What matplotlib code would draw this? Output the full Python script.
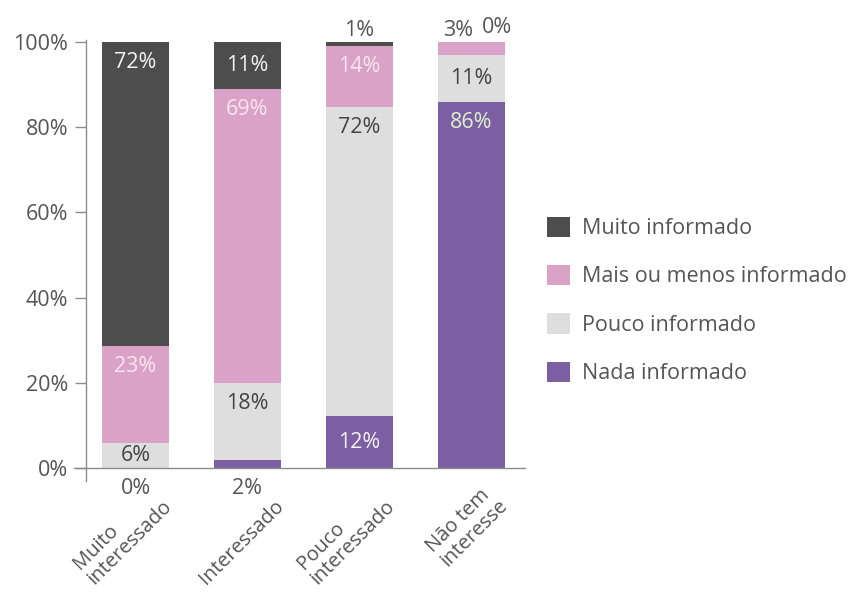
import matplotlib.pyplot as plt
import matplotlib.transforms as mtransforms
from matplotlib.patches import Patch
import numpy as np

plt.rcParams['font.family'] = ['Open Sans', 'DejaVu Sans']

categories = ['Muito\ninteressado', 'Interessado', 'Pouco\ninteressado', 'Não tem\ninteresse']
series = ['Nada informado', 'Pouco informado', 'Mais ou menos informado', 'Muito informado']
nada = [0, 2, 12, 86]
pouco = [6, 18, 72, 11]
mais = [23, 69, 14, 3]
muito = [72, 11, 1, 0]

colors = ['#7b5fa2', '#dedede', '#dba2c7', '#4d4d4d']
# label placement per category (Nada, Pouco, Mais, Muito):
# top = inside near top, mid = centred, below = under axis, above = over bar (x shift px)
placement = [
    [('below', 0), ('mid', 0), ('top', 0), ('top', 0)],
    [('below', 0), ('top', 0), ('top', 0), ('mid', 0)],
    [('mid', 0), ('top', 0), ('top', 0), ('above', 0)],
    [('top', 0), ('mid', 0), ('above', -13), ('above', 26)],
]
label_colors = [
    ['#555555', '#444444', '#f6e6f0', '#f2f2f2'],
    ['#555555', '#444444', '#f6e6f0', '#f2f2f2'],
    ['#f2f2f2', '#444444', '#f6e6f0', '#555555'],
    ['#dff2cf', '#444444', '#555555', '#555555'],
]
FS = 15.5

values = np.array([nada, pouco, mais, muito], dtype=float)
shares = values / values.sum(axis=0) * 100
x = np.arange(len(categories))

fig = plt.figure(figsize=(8.51, 5.92), dpi=100)
ax = fig.add_axes([74 / 851, 1 - 480.8 / 592, 451 / 851, 440.9 / 592])

bottom = np.zeros(len(categories))
for i, name in enumerate(series):
    ax.bar(x, shares[i], 0.6, bottom=bottom, color=colors[i], label=name)
    for j in range(len(categories)):
        mode, dx = placement[j][i]
        lo, hi = bottom[j], bottom[j] + shares[i][j]
        if mode == 'top':
            y = hi - 4.8
        elif mode == 'mid':
            y = (lo + hi) / 2
        elif mode == 'below':
            y = -4.7
        else:
            y = 100 + 2.8 + (0.7 if dx > 0 else 0)
        tr = ax.transData + mtransforms.ScaledTranslation(dx / 100, 0, fig.dpi_scale_trans)
        ax.text(x[j], y, f'{values[i][j]:.0f}%', transform=tr, ha='center', va='center',
                fontsize=FS, color=label_colors[j][i])
    bottom += shares[i]

ax.set_xlim(-0.55, 3.48)
ax.set_ylim(-3, 100.5)
ax.set_yticks(range(0, 101, 20))
ax.set_yticklabels([f'{v}%' for v in range(0, 101, 20)])
ax.set_xticks([])

for s in ['top', 'right']:
    ax.spines[s].set_visible(False)
ax.spines['bottom'].set_position(('data', 0))
ax.spines['left'].set_position(('data', -0.44))
for s in ['bottom', 'left']:
    ax.spines[s].set_color('#8c8c8c')
    ax.spines[s].set_linewidth(1.0)
ax.tick_params(axis='y', direction='out', length=8, width=1.0, color='#8c8c8c',
               labelsize=FS, labelcolor='#555555', pad=5)

# rotated category labels
off = mtransforms.ScaledTranslation(0.40, -0.42, fig.dpi_scale_trans)
for j, cat in enumerate(categories):
    ax.text(x[j], 0, cat, transform=ax.transData + off, rotation=45,
            rotation_mode='anchor', ha='right', va='bottom', multialignment='left',
            fontsize=14.5, color='#555555', linespacing=1.0)

handles = [Patch(facecolor=colors[i], label=series[i]) for i in range(len(series))][::-1]
fig.legend(handles=handles, loc='upper left', bbox_to_anchor=(538 / 851, 1 - 208 / 592),
           frameon=False, fontsize=FS, labelcolor='#555555', handlelength=1.08,
           handleheight=1.08, handletextpad=0.55, labelspacing=1.2, borderaxespad=0)

fig.savefig('out.png', dpi=100)
